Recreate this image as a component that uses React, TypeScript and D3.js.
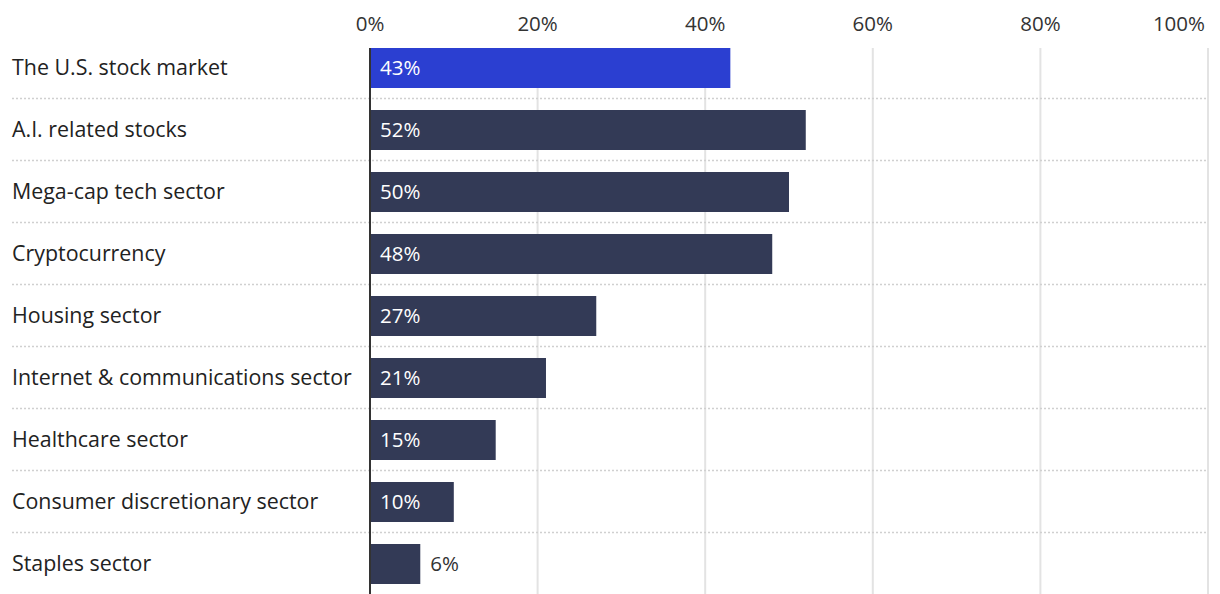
import React from "react";
import * as d3 from "d3";

const categories = [
  "The U.S. stock market",
  "A.I. related stocks",
  "Mega-cap tech sector",
  "Cryptocurrency",
  "Housing sector",
  "Internet & communications sector",
  "Healthcare sector",
  "Consumer discretionary sector",
  "Staples sector",
];
const values = [43, 52, 50, 48, 27, 21, 15, 10, 6];
const tickValues = [0, 20, 40, 60, 80, 100];

const W = 1220;
const H = 594;
const FONT = "'Open Sans', sans-serif";
const FS = 21.4;

export default function App() {
  const x = d3.scaleLinear().domain([0, 100]).range([370, 1208]);
  const y = d3
    .scaleBand<string>()
    .domain(categories)
    .range([37, 595])
    .paddingInner(22 / 62)
    .paddingOuter(11 / 62);
  const bw = y.bandwidth();

  return (
    <svg
      width={W}
      height={H}
      style={{ position: "absolute", left: 0, top: 0, display: "block", background: "#fff" }}
      fontFamily={FONT}
    >
      {tickValues.map((t) =>
        t === 0 ? null : (
          <line key={"g" + t} x1={x(t)} x2={x(t)} y1={48} y2={H} stroke="#e3e3e3" strokeWidth={2} />
        )
      )}
      {categories.slice(1).map((c) => {
        const yy = (y(c) as number) - 11.5;
        return (
          <line
            key={"s" + c}
            x1={12}
            x2={1208}
            y1={yy}
            y2={yy}
            stroke="#d0d0d0"
            strokeWidth={1.5}
            strokeDasharray="2,2"
          />
        );
      })}
      {tickValues.map((t, i) => (
        <text
          key={"t" + t}
          x={i === tickValues.length - 1 ? x(t) - 3 : x(t)}
          y={24}
          dy="0.35em"
          textAnchor={i === tickValues.length - 1 ? "end" : "middle"}
          fontSize={20.5}
          fill="#333"
        >
          {t}%
        </text>
      ))}
      {categories.map((c, i) => {
        const by = y(c) as number;
        const v = values[i];
        const inside = v >= 8;
        return (
          <g key={c}>
            <rect
              x={x(0)}
              y={by}
              width={x(v) - x(0)}
              height={bw}
              fill={i === 0 ? "#2b3fd1" : "#333a56"}
            />
            <text
              x={x(0) + 10 + (inside ? 0 : x(v) - x(0))}
              y={by + bw / 2}
              dy="0.35em"
              fontSize={20.5}
              fill={inside ? "#fff" : "#333"}
            >
              {v}%
            </text>
            <text x={12} y={by + bw / 2} dy="0.35em" fontSize={FS} fill="#222">
              {c}
            </text>
          </g>
        );
      })}
      <line x1={x(0)} x2={x(0)} y1={48} y2={H} stroke="#333" strokeWidth={2} />
    </svg>
  );
}
